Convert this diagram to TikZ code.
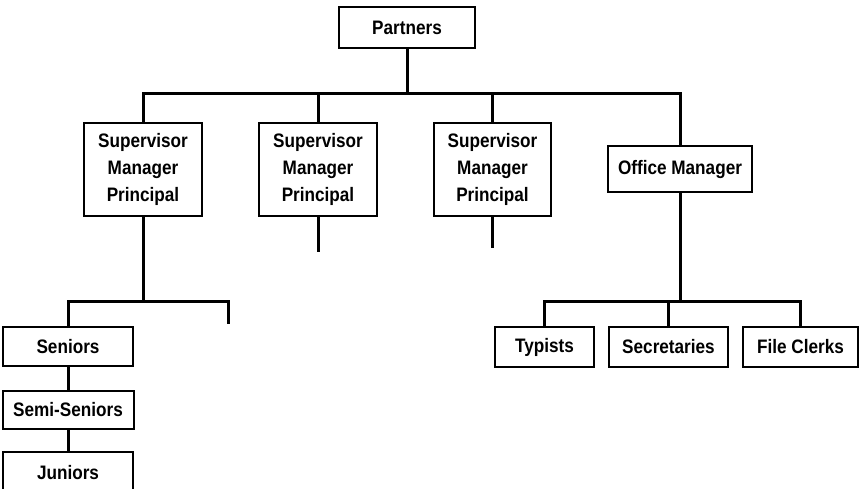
\documentclass[tikz,border=0pt]{standalone}
\usepackage{fontspec}
\setmainfont{Liberation Sans}[FakeStretch=0.88]
\begin{document}
\begin{tikzpicture}[x=1pt,y=-1pt,
  box/.style={draw, line width=2pt, inner sep=0pt, align=center,
    font=\bfseries\fontsize{19.5}{27}\selectfont},
  link/.style={line width=3pt}]
\useasboundingbox (0,0) rectangle (859,488);
\fill[white] (0,0) rectangle (859,488);
\clip (0,0) rectangle (859,488);
% nodes
\node[box, minimum width=136pt, minimum height=41pt] (P) at (407,27.5) {Partners};
\node[box, minimum width=118pt, minimum height=93pt] (S1) at (143,169.5) {Supervisor\\Manager\\Principal};
\node[box, minimum width=118pt, minimum height=93pt] (S2) at (318,169.5) {Supervisor\\Manager\\Principal};
\node[box, minimum width=117pt, minimum height=93pt] (S3) at (492.5,169.5) {Supervisor\\Manager\\Principal};
\node[box, minimum width=144pt, minimum height=46pt] (OM) at (680,169) {Office Manager};
\node[box, minimum width=130pt, minimum height=39pt] (Sen) at (68,346.5) {Seniors};
\node[box, minimum width=131pt, minimum height=38pt] (Semi) at (68,410) {Semi-Seniors};
\node[box, minimum width=130pt, minimum height=42pt] (Jun) at (68,473) {Juniors};
\node[box, minimum width=99pt, minimum height=40pt] (Typ) at (544.5,347) {Typists};
\node[box, minimum width=119pt, minimum height=40pt] (Sec) at (668.5,347) {Secretaries};
\node[box, minimum width=115pt, minimum height=40pt] (FC) at (800.5,347) {File Clerks};
% coordinates
\coordinate (bus1) at (407,93);
\coordinate (bus2) at (143,301);
\coordinate (bus3) at (680,301);
\coordinate (s2end) at (318,252);
\coordinate (s3end) at (492.5,248);
\coordinate (s1stub) at (228,324);
% connectors
\draw[link] (P) -- (bus1);
\draw[link] (bus1) -| (S1);
\draw[link] (bus1) -| (S2);
\draw[link] (bus1) -| (S3);
\draw[link] (bus1) -| (OM);
\draw[link] (S2) -- (s2end);
\draw[link] (S3) -- (s3end);
\draw[link] (S1) -- (bus2);
\draw[link] (bus2) -| (Sen);
\draw[link] (bus2) -| (s1stub);
\draw[link] (Sen) -- (Semi);
\draw[link] (Semi) -- (Jun);
\draw[link] (OM) -- (bus3);
\draw[link] (bus3) -| (Typ);
\draw[link] (bus3) -| (Sec);
\draw[link] (bus3) -| (FC);
\end{tikzpicture}
\end{document}
